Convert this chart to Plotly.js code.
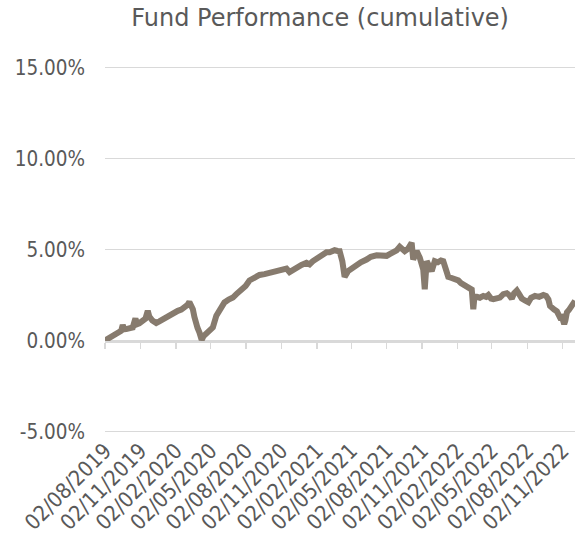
<!DOCTYPE html>
<html>
<head>
<meta charset="utf-8">
<script src="https://cdn.plot.ly/plotly-3.0.1.min.js"></script>
<style>html,body{margin:0;padding:0;background:#fff;}#chart{width:580px;height:545px;}</style>
</head>
<body>
<div id="chart"></div>
<script>
// Cumulative fund performance (%)
const dates = [
  '2019-08-02','2019-08-11','2019-08-22','2019-08-31','2019-09-13','2019-09-17','2019-09-21','2019-09-26',
  '2019-10-04','2019-10-13','2019-10-20','2019-10-24','2019-10-30','2019-11-08','2019-11-15','2019-11-21',
  '2019-11-25','2019-12-03','2019-12-13','2019-12-21','2019-12-30','2020-01-08','2020-01-21','2020-01-29',
  '2020-02-07','2020-02-16','2020-02-24','2020-03-03','2020-03-08','2020-03-17','2020-03-21','2020-03-26',
  '2020-03-29','2020-04-03','2020-04-09','2020-04-14','2020-04-21','2020-04-29','2020-05-08','2020-05-17',
  '2020-05-25','2020-06-07','2020-06-18','2020-06-29','2020-07-08','2020-07-21','2020-08-01','2020-08-11',
  '2020-08-24','2020-09-06','2020-09-19','2020-10-02','2020-10-15','2020-10-28','2020-11-08','2020-11-15',
  '2020-11-23','2020-12-04','2020-12-15','2020-12-24','2021-01-06','2021-01-14','2021-01-22','2021-02-01',
  '2021-02-09','2021-02-18','2021-02-27','2021-03-07','2021-03-20','2021-03-28','2021-04-02','2021-04-09',
  '2021-04-15','2021-04-24','2021-05-03','2021-05-16','2021-05-27','2021-06-11','2021-06-22','2021-07-07',
  '2021-07-18','2021-08-02','2021-08-10','2021-08-19','2021-08-28','2021-09-05','2021-09-13','2021-09-18',
  '2021-09-27','2021-10-06','2021-10-10','2021-10-19','2021-10-27','2021-11-05','2021-11-09','2021-11-14',
  '2021-11-20','2021-11-27','2021-12-05','2021-12-13','2021-12-21','2021-12-27','2022-01-03','2022-01-09',
  '2022-01-16','2022-01-22','2022-01-29','2022-02-04','2022-02-11','2022-02-17','2022-02-26','2022-03-06',
  '2022-03-11','2022-03-15','2022-03-18','2022-03-24','2022-04-01','2022-04-10','2022-04-17','2022-04-23',
  '2022-04-30','2022-05-06','2022-05-15','2022-05-23','2022-06-01','2022-06-10','2022-06-16','2022-06-23',
  '2022-06-29','2022-07-06','2022-07-12','2022-07-19','2022-07-27','2022-08-05','2022-08-12','2022-08-22',
  '2022-09-02','2022-09-13','2022-09-20','2022-09-26','2022-09-30','2022-10-05','2022-10-11','2022-10-18',
  '2022-10-22','2022-10-26','2022-10-31','2022-11-06','2022-11-09','2022-11-13','2022-11-19','2022-11-26',
  '2022-12-02','2022-12-04'
];
const performance = [
  0.00, 0.12, 0.30, 0.40, 0.54, 0.85, 0.62, 0.63,
  0.70, 0.72, 1.21, 0.90, 0.95, 1.08, 1.20, 1.63,
  1.32, 1.10, 0.96, 1.05, 1.17, 1.30, 1.45, 1.50,
  1.63, 1.70, 1.81, 1.95, 2.12, 1.72, 1.30, 0.81,
  0.70, 0.45, 0.03, 0.25, 0.36, 0.55, 0.72, 1.36,
  1.60, 2.09, 2.25, 2.36, 2.55, 2.75, 3.00, 3.30,
  3.50, 3.60, 3.65, 3.70, 3.78, 3.85, 3.88, 3.95,
  3.76, 3.90, 4.09, 4.15, 4.27, 4.18, 4.35, 4.49,
  4.60, 4.70, 4.85, 4.85, 4.96, 4.92, 4.91, 4.36,
  3.50, 3.81, 3.95, 4.18, 4.30, 4.45, 4.60, 4.68,
  4.65, 4.65, 4.75, 4.82, 4.95, 5.15, 5.05, 4.91,
  5.05, 5.37, 4.45, 4.91, 4.55, 3.91, 2.81, 4.36,
  4.10, 3.81, 4.36, 4.30, 4.40, 4.36, 3.90, 3.50,
  3.45, 3.40, 3.30, 3.30, 3.15, 3.09, 2.95, 2.85,
  2.80, 1.72, 2.40, 2.40, 2.35, 2.45, 2.40, 2.50,
  2.30, 2.27, 2.35, 2.36, 2.55, 2.60, 2.50, 2.30,
  2.60, 2.75, 2.55, 2.30, 2.20, 2.10, 2.35, 2.45,
  2.40, 2.50, 2.45, 2.25, 1.90, 1.75, 1.70, 1.60,
  1.40, 1.27, 1.30, 0.90, 1.10, 1.55, 1.70, 1.90,
  2.05, 2.18
];
const tickDates = [
  '2019-08-02','2019-11-02','2020-02-02','2020-05-02','2020-08-02','2020-11-02','2021-02-02',
  '2021-05-02','2021-08-02','2021-11-02','2022-02-02','2022-05-02','2022-08-02','2022-11-02'
];
const tickLabels = [
  '02/08/2019','02/11/2019','02/02/2020','02/05/2020','02/08/2020','02/11/2020','02/02/2021',
  '02/05/2021','02/08/2021','02/11/2021','02/02/2022','02/05/2022','02/08/2022','02/11/2022'
];
const yTickValues = [-5, 0, 5, 10, 15];
const yTickLabels = ['-5.00%', '0.00%', '5.00%', '10.00%', '15.00%'];
const xRange = ['2019-08-02', '2022-12-04'];
const yRange = [-5.08, 15.08];

const FONT = '"DejaVu Sans Condensed", "DejaVu Sans", sans-serif';
const TITLE_FONT = '"DejaVu Sans", sans-serif';
const TEXT = '#595959';
const GRID = '#d9d9d9';

const traces = [{
  type: 'scatter', mode: 'lines',
  x: dates, y: performance,
  line: {color: '#877b6e', width: 6},
  hoverinfo: 'skip', showlegend: false
}];

// invisible helper trace to activate the overlaying tick axis
traces.push({type: 'scatter', mode: 'lines', x: [xRange[0]], y: [null], xaxis: 'x2', yaxis: 'y',
             hoverinfo: 'skip', showlegend: false});

const layout = {
  width: 580, height: 545,
  margin: {l: 105, r: 5, t: 65.5, b: 111.5},
  paper_bgcolor: '#fff', plot_bgcolor: '#fff',
  font: {family: FONT, color: TEXT, size: 20},
  title: {text: 'Fund Performance (cumulative)', font: {family: TITLE_FONT, size: 24, color: TEXT},
          xref: 'container', x: 0.552, xanchor: 'center', yref: 'container', y: 0.968, yanchor: 'middle'},
  xaxis: {
    type: 'date', range: xRange, tickvals: tickDates, ticktext: tickLabels,
    tickangle: -45, showgrid: false, zeroline: false, showline: false, ticks: '',
    tickfont: {family: FONT, size: 21.5, color: TEXT}, fixedrange: true
  },
  xaxis2: {
    type: 'date', range: xRange, tickvals: tickDates, overlaying: 'x', anchor: 'free', position: 0.25,
    showticklabels: false, ticks: 'outside', ticklen: 6, tickwidth: 1.3, tickcolor: GRID,
    showline: true, linecolor: GRID, linewidth: 1.3, showgrid: false, zeroline: false, fixedrange: true
  },
  yaxis: {
    range: yRange, tickvals: yTickValues, ticktext: yTickLabels,
    showgrid: true, gridcolor: GRID, gridwidth: 1.3, zeroline: false, showline: false, ticks: '',
    ticklabelstandoff: 19, tickfont: {family: FONT, size: 20.5, color: TEXT}, fixedrange: true
  }
};

Plotly.newPlot('chart', traces, layout, {staticPlot: true, displayModeBar: false});
</script>
</body>
</html>
